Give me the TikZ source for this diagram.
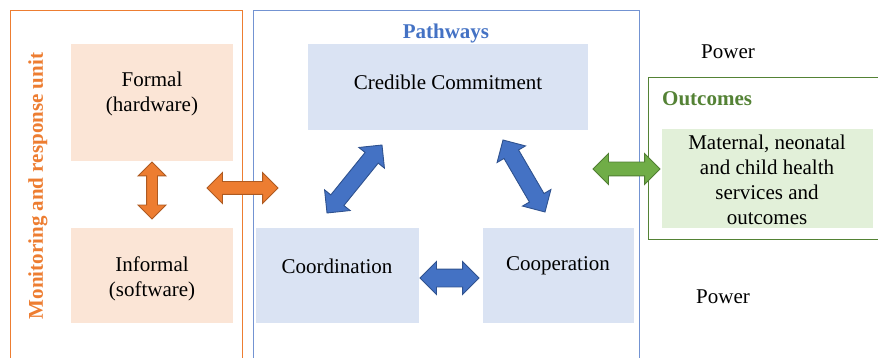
\documentclass[tikz,border=0pt]{standalone}
\usepackage{fontspec}
\setmainfont{Liberation Serif}
\usepackage{tikz}
\usetikzlibrary{shapes.arrows,calc,positioning}

\definecolor{orline}{HTML}{ED7D31}
\definecolor{orfill}{HTML}{FBE5D6}
\definecolor{ordark}{HTML}{AE5A21}
\definecolor{blline}{HTML}{7393D2}
\definecolor{bltext}{HTML}{4472C4}
\definecolor{blfill}{HTML}{DAE3F3}
\definecolor{bldark}{HTML}{2F528F}
\definecolor{grline}{HTML}{548235}
\definecolor{grfill}{HTML}{E2F0D9}
\definecolor{grarrow}{HTML}{70AD47}
\definecolor{grdark}{HTML}{507E32}

\newcommand\txtsize{\fontsize{21}{25}\selectfont}
\tikzset{
  orbox/.style={fill=orfill, inner sep=0pt},
  blbox/.style={fill=blfill, inner sep=0pt},
  grbox/.style={fill=grfill, inner sep=0pt},
  txt/.style={font=\txtsize, align=center, inner sep=0pt, text=black},
  title/.style={font=\txtsize\bfseries, inner sep=0pt},
  fatarrow/.style={double arrow, inner xsep=0pt, line width=0.9pt, double arrow tip angle=90},
}
% fat double arrow between two named points
\newcommand\fatlink[4]{%
  \path let \p1=(#2), \p2=(#3), \n1={atan2(\y2-\y1,\x2-\x1)}, \n2={veclen(\x2-\x1,\y2-\y1)} in
    node[fatarrow, #4, rotate=\n1, minimum height=\n2] (#1) at ($(#2)!0.5!(#3)$) {};}

\begin{document}
\begin{tikzpicture}[x=1pt,y=-1pt]
\useasboundingbox (0,0) rectangle (878,358);

    % Monitoring and response unit
    \draw[orline, line width=1pt] (10,358) -- (10,11) -- (242,11) -- (242,358);
    \node[title, text=orline, rotate=90] (mru) at (38,186) {Monitoring and response unit};
    \node[orbox, minimum width=162pt, minimum height=117pt] (formal) at (152,102.5) {};
    \node[txt] (formaltxt) at (152,94) {Formal\\(hardware)};
    \node[orbox, minimum width=162pt, minimum height=95pt] (informal) at (152,275.5) {};
    \node[txt] (informaltxt) at (152,278.5) {Informal\\(software)};

    % Pathways
    \draw[blline, line width=1pt] (253,358) -- (253,11) -- (639,11) -- (639,358);
    \node[title, text=bltext] (pathways) at (446,33) {Pathways};
    \node[blbox, minimum width=280pt, minimum height=86pt] (credible) at (448,87) {};
    \node[txt] (credibletxt) at (448,82) {Credible Commitment};
    \node[blbox, minimum width=163pt, minimum height=95pt] (coord) at (337.5,275.5) {};
    \node[txt] (coordtxt) at (337,266) {Coordination};
    \node[blbox, minimum width=151pt, minimum height=95pt] (coop) at (558.5,275.5) {};
    \node[txt] (cooptxt) at (558,266) {Cooperation};

    % Outcomes
    \draw[grline, line width=1pt] (878,78) -- (648,78) -- (648,239) -- (878,239);
    \node[title, text=grline, anchor=west] (outcomes) at (662,99) {Outcomes};
    \node[grbox, minimum width=211pt, minimum height=99pt] (mnch) at (767.5,178.5) {};
    \node[txt] (mnchtxt) at (767,180) {Maternal, neonatal\\and child health\\services and\\outcomes};

    \node[txt] (powertop) at (728,52) {Power};
    \node[txt] (powerbot) at (723,297) {Power};

    % arrow end points
    \coordinate (ov1) at (152,162);  \coordinate (ov2) at (152,219);
    \coordinate (oh1) at (207,188);  \coordinate (oh2) at (278,188);
    \coordinate (bl1) at (327,213);  \coordinate (bl2) at (382,145);
    \coordinate (br1) at (503,140);  \coordinate (br2) at (545,212);
    \coordinate (bh1) at (420,278);  \coordinate (bh2) at (479,278);
    \coordinate (gh1) at (593,169);  \coordinate (gh2) at (660,169);

    \fatlink{ovarrow}{ov1}{ov2}{fill=orline, draw=ordark, inner ysep=5pt, double arrow head extend=8.5pt}
    \fatlink{oharrow}{oh1}{oh2}{fill=orline, draw=ordark, inner ysep=6pt, double arrow head extend=9pt}
    \fatlink{blarrow}{bl1}{bl2}{fill=bltext, draw=bldark, inner ysep=8pt, double arrow head extend=8pt}
    \fatlink{brarrow}{br1}{br2}{fill=bltext, draw=bldark, inner ysep=8pt, double arrow head extend=8pt}
    \fatlink{bharrow}{bh1}{bh2}{fill=bltext, draw=bldark, inner ysep=8.5pt, double arrow head extend=7.5pt}
    \fatlink{gharrow}{gh1}{gh2}{fill=grarrow, draw=grdark, inner ysep=6.5pt, double arrow head extend=8.5pt}

\end{tikzpicture}
\end{document}
